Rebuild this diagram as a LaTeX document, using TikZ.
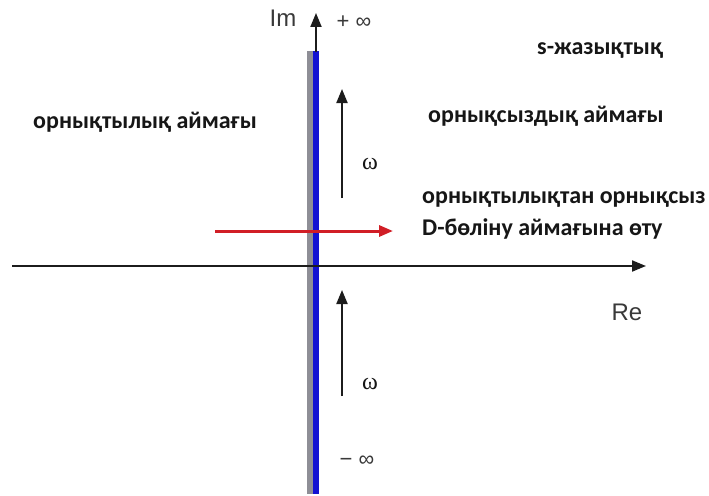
\documentclass[tikz,border=0pt]{standalone}
\usepackage{fontspec}
\setmainfont{Carlito}
\newfontfamily\axisfont{Liberation Sans}
\newfontfamily\greekfont{Liberation Serif}
\usetikzlibrary{arrows.meta}
\definecolor{SPBlue} {HTML}{1212D2}
\definecolor{SPGray} {HTML}{8E8E96}
\definecolor{SPRed}  {HTML}{D11E26}
\definecolor{SPInk}  {HTML}{1C1C1C}
\definecolor{SPText} {HTML}{161616}

\begin{document}
\begin{tikzpicture}[x=1pt,y=-1pt,
    axisline/.style={draw=SPInk,line width=2pt,-{Triangle[length=14pt,width=11pt]}},
    regionlbl/.style={font=\fontsize{24}{29}\selectfont\bfseries,text=SPText,anchor=base west,inner sep=0pt},
    axislbl/.style={font=\axisfont\fontsize{24}{28}\selectfont,text=SPText!85,inner sep=0pt},
    inflbl/.style={font=\axisfont\fontsize{22}{26}\selectfont,text=SPText!85,inner sep=0pt},
    omegalbl/.style={font=\greekfont\fontsize{24}{28}\selectfont,text=SPText,inner sep=0pt}]
  \useasboundingbox (0,0) rectangle (709,495);
  % imaginary axis strip
  \fill[SPGray] (307,51) rectangle (313,494);
  \fill[SPBlue] (313,51) rectangle (319,494);
  % axes
  \coordinate (reL) at (12,266);
  \coordinate (reR) at (646,266);
  \coordinate (imB) at (316,52);
  \coordinate (imT) at (316,13);
  \draw[axisline] (reL) -- (reR);
  \draw[axisline] (imB) -- (imT);
  % omega arrows
  \coordinate (w1B) at (342,198);
  \coordinate (w1T) at (342,89);
  \coordinate (w2B) at (342,396);
  \coordinate (w2T) at (342,290);
  \draw[axisline] (w1B) -- (w1T);
  \draw[axisline] (w2B) -- (w2T);
  % crossing arrow
  \coordinate (crL) at (215,231);
  \coordinate (crR) at (393,231);
  \draw[draw=SPRed,line width=3pt,-{Triangle[length=14pt,width=11pt]}] (crL) -- (crR);
  % labels
  \node[axislbl] (im) at (283,18) {Im};
  \node[axislbl] (re) at (627,312) {Re};
  \node[inflbl] (pinf) at (354,22) {+ ∞};
  \node[inflbl] (minf) at (357,461) {− ∞};
  \node[omegalbl] (om1) at (370,164) {ω};
  \node[omegalbl] (om2) at (370,384) {ω};
  \node[regionlbl] (splane) at (537,55) {s-жазықтық};
  \node[regionlbl] (stab) at (33,128) {орнықтылық аймағы};
  \node[regionlbl] (unstab) at (428,122) {орнықсыздық аймағы};
  \node[regionlbl] (cross1) at (422,203) {орнықтылықтан орнықсыз};
  \node[regionlbl] (cross2) at (422,235) {D-бөліну аймағына өту};
\end{tikzpicture}
\end{document}
